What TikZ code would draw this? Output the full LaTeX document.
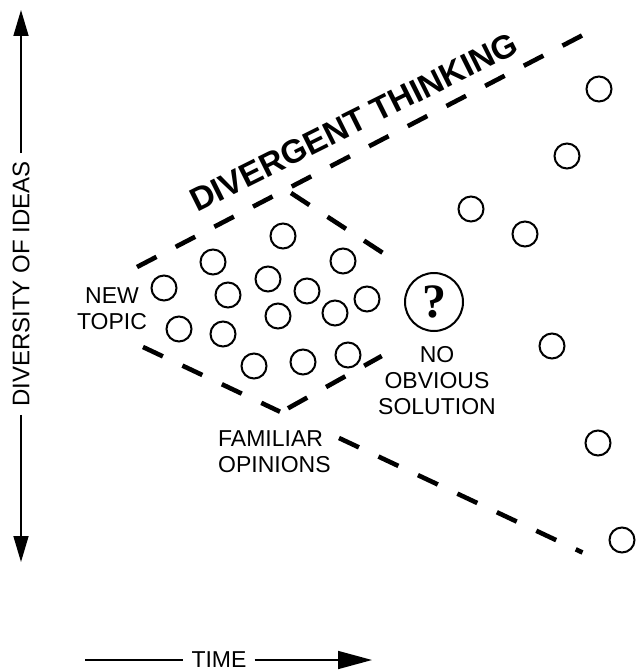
\documentclass[tikz,border=0pt]{standalone}
\usepackage{fontspec}
\setmainfont{Liberation Sans}
\newfontfamily\qmarkfont{Liberation Serif}
\usetikzlibrary{arrows.meta}

\begin{document}
\begin{tikzpicture}[x=1pt, y=-1pt,
    idea/.style={line width=2pt},
    bound/.style={line width=4.6pt, dash pattern=on 22pt off 21.6pt},
    axis/.style={line width=1.6pt},
    lbl/.style={font=\fontsize{23}{26}\selectfont, align=center, inner sep=0pt}]
        \useasboundingbox (0,0) rectangle (636,671);
        \fill[white] (0,0) rectangle (636,671);

        % Diversity axis
        \node[lbl, font=\fontsize{24}{26}\selectfont, rotate=90, inner sep=8pt] (div) at (21,284) {DIVERSITY OF IDEAS};
        \coordinate (divtop) at (21,10);
        \coordinate (divbot) at (21,562);
        \draw[axis, -{Triangle[length=26pt, width=15pt]}] (div.east) -- (divtop);
        \draw[axis, -{Triangle[length=26pt, width=15pt]}] (div.west) -- (divbot);

        % Time axis
        \node[lbl, inner sep=8pt] (time) at (219,660) {TIME};
        \coordinate (tstart) at (85,660);
        \coordinate (tend) at (372,660);
        \draw[axis] (tstart) -- (time.west);
        \draw[axis, -{Triangle[length=34pt, width=18pt]}] (time.east) -- (tend);

        % Divergent wedge
        \draw[bound] (137,267) -- (583,35);
        \draw[bound] (143,347) -- (280,411.7);
        \draw[bound] (339,438) -- (582.5,552.5);

        % Converging edges
        \draw[bound] (291,193) -- (383,253);
        \draw[bound] (288,408.3) -- (381.7,356);

        % Ideas
        \foreach \x/\y in {164/288, 213/262, 283/236, 228/295, 268/279, 307/291,
                           343/261, 367/299, 335/313, 278/316, 179/329, 223/334,
                           254/366, 303/362, 348/355,
                           471/209, 525/234, 567/156, 599/89, 552/346, 598/443, 622/540}
            \draw[idea] (\x,\y) circle (12.5pt);

        % Open question
        \node[idea, draw, circle, minimum size=58pt, inner sep=0pt,
              font=\qmarkfont\bfseries\fontsize{48}{48}\selectfont] (quest) at (434,302) {?};

        % Labels
        \node[lbl] (newtopic) at (112,309) {NEW\\TOPIC};
        \node[lbl] (nosol) at (437,381) {NO\\OBVIOUS\\SOLUTION};
        \node[lbl, align=left, anchor=west] (familiar) at (218,451.5) {FAMILIAR\\OPINIONS};
        \node[font=\fontsize{33}{36}\selectfont\bfseries, rotate=26.5, inner sep=0pt] (title) at (354,122) {DIVERGENT THINKING};
    \end{tikzpicture}
\end{document}
